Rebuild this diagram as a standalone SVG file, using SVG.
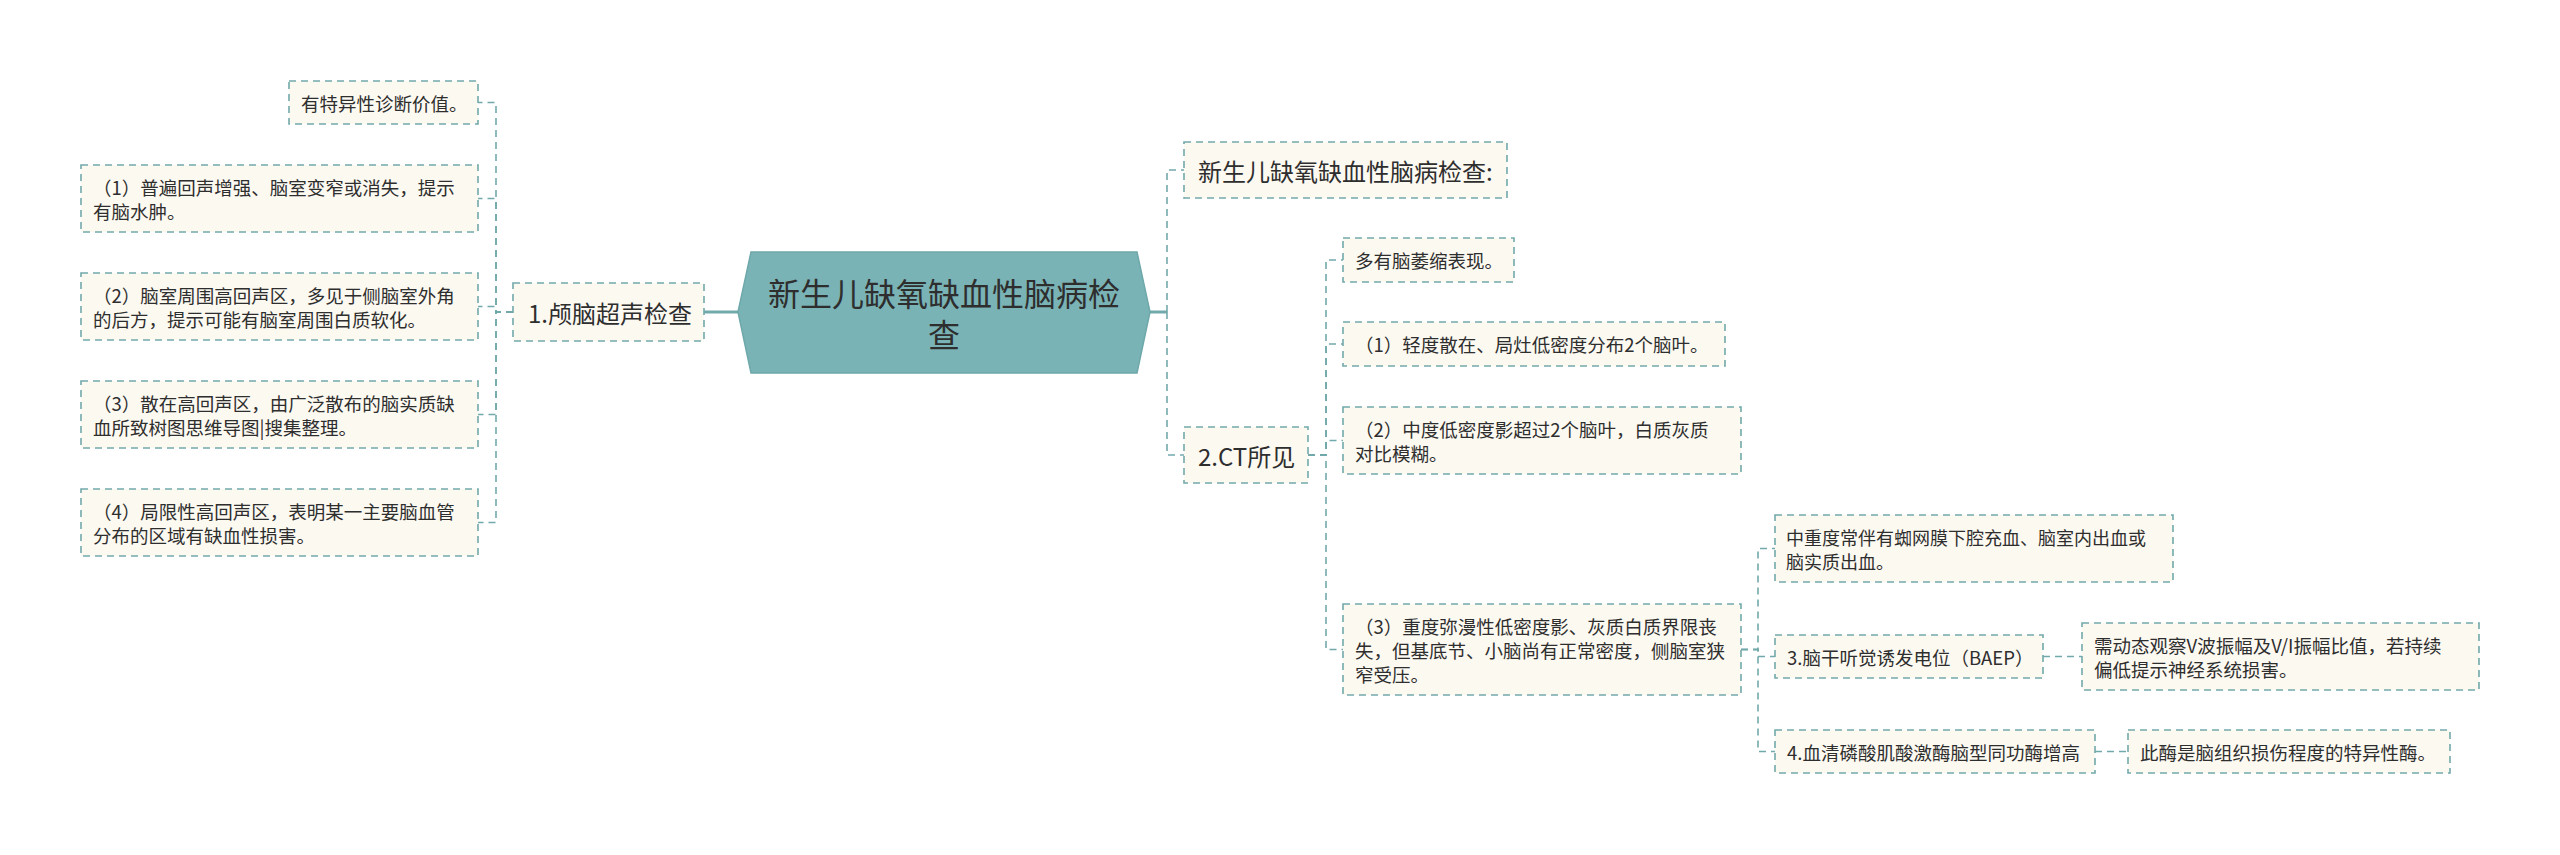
<svg xmlns="http://www.w3.org/2000/svg" width="2560" height="855" viewBox="0 0 2560 855">
<style>
.box{fill:#fcf9f1;stroke:#72a9aa;stroke-width:1.6;stroke-dasharray:7 5}
.conn{fill:none;stroke:#72a9aa;stroke-width:1.6;stroke-dasharray:7 5}
.solid{fill:none;stroke:#72a9aa;stroke-width:3}
.t{font-family:"Noto Sans CJK SC","Microsoft YaHei",sans-serif;fill:#2e2e2e;dominant-baseline:central}
.s{font-size:18.5px}
.sj{font-size:18px}
.m{font-size:24px}
.r{font-size:32px;text-anchor:middle}
</style>
<rect width="2560" height="855" fill="#ffffff"/>
<g id="connectors">
<path class="solid" d="M738,312 H704"/>
<path class="conn" d="M513,312 H496 V102.5 H478"/>
<path class="conn" d="M513,312 H496 V198.5 H478"/>
<path class="conn" d="M513,312 H496 V306.5 H478"/>
<path class="conn" d="M513,312 H496 V414.5 H478"/>
<path class="conn" d="M513,312 H496 V522.5 H478"/>
<path class="solid" d="M1150,312 H1167"/>
<path class="conn" d="M1167,312 V170 H1184"/>
<path class="conn" d="M1167,312 V455 H1184"/>
<path class="conn" d="M1308,455 H1326 V260 H1343"/>
<path class="conn" d="M1308,455 H1326 V344 H1343"/>
<path class="conn" d="M1308,455 H1326 V440.5 H1343"/>
<path class="conn" d="M1308,455 H1326 V649.5 H1343"/>
<path class="conn" d="M1741,649.5 H1758 V548.5 H1775"/>
<path class="conn" d="M1741,649.5 H1758 V656.5 H1775"/>
<path class="conn" d="M1741,649.5 H1758 V751.5 H1775"/>
<path class="conn" d="M2043,656.5 H2082"/>
<path class="conn" d="M2095,751.5 H2128"/>
</g>
<g id="root">
<polygon points="738,312 751,252 1137,252 1150,312 1137,373 751,373" fill="#7ab3b5" stroke="#6ea8aa" stroke-width="1.5"/>
<text class="t r"><tspan x="944" y="292">新生儿缺氧缺血性脑病检</tspan><tspan x="944" y="333">查</tspan></text>
</g>
<g id="n-ultrasound">
<rect class="box" x="513" y="283" width="191" height="58"/>
<text class="t m" x="528" y="312">1.颅脑超声检查</text>
</g>
<g id="n-title">
<rect class="box" x="1184" y="142" width="323" height="56"/>
<text class="t m" x="1198" y="170">新生儿缺氧缺血性脑病检查:</text>
</g>
<g id="n-ct">
<rect class="box" x="1184" y="427" width="124" height="56"/>
<text class="t m" x="1198" y="455">2.CT所见</text>
</g>
<g id="n-a">
<rect class="box" x="289" y="81" width="189" height="43"/>
<text class="t s" x="301" y="102.5">有特异性诊断价值。</text>
</g>
<g id="n-b">
<rect class="box" x="81" y="165" width="397" height="67"/>
<text class="t s"><tspan x="93" y="187">（1）普遍回声增强、脑室变窄或消失，提示</tspan><tspan x="93" y="211">有脑水肿。</tspan></text>
</g>
<g id="n-c">
<rect class="box" x="81" y="273" width="397" height="67"/>
<text class="t s"><tspan x="93" y="295">（2）脑室周围高回声区，多见于侧脑室外角</tspan><tspan x="93" y="319">的后方，提示可能有脑室周围白质软化。</tspan></text>
</g>
<g id="n-d">
<rect class="box" x="81" y="381" width="397" height="67"/>
<text class="t s"><tspan x="93" y="403">（3）散在高回声区，由广泛散布的脑实质缺</tspan><tspan x="93" y="427">血所致树图思维导图|搜集整理。</tspan></text>
</g>
<g id="n-e">
<rect class="box" x="81" y="489" width="397" height="67"/>
<text class="t s"><tspan x="93" y="511">（4）局限性高回声区，表明某一主要脑血管</tspan><tspan x="93" y="535">分布的区域有缺血性损害。</tspan></text>
</g>
<g id="n-f">
<rect class="box" x="1343" y="238" width="171" height="44"/>
<text class="t s" x="1355" y="260">多有脑萎缩表现。</text>
</g>
<g id="n-g">
<rect class="box" x="1343" y="322" width="382" height="44"/>
<text class="t s" x="1355" y="344">（1）轻度散在、局灶低密度分布2个脑叶。</text>
</g>
<g id="n-h">
<rect class="box" x="1343" y="407" width="398" height="67"/>
<text class="t s"><tspan x="1355" y="429">（2）中度低密度影超过2个脑叶，白质灰质</tspan><tspan x="1355" y="453">对比模糊。</tspan></text>
</g>
<g id="n-i">
<rect class="box" x="1343" y="604" width="398" height="91"/>
<text class="t s"><tspan x="1355" y="626">（3）重度弥漫性低密度影、灰质白质界限丧</tspan><tspan x="1355" y="650">失，但基底节、小脑尚有正常密度，侧脑室狭</tspan><tspan x="1355" y="674">窄受压。</tspan></text>
</g>
<g id="n-j">
<rect class="box" x="1775" y="515" width="398" height="67"/>
<text class="t sj"><tspan x="1786" y="537">中重度常伴有蜘网膜下腔充血、脑室内出血或</tspan><tspan x="1786" y="561">脑实质出血。</tspan></text>
</g>
<g id="n-k">
<rect class="box" x="1775" y="635" width="268" height="43"/>
<text class="t s" x="1787" y="656.5">3.脑干听觉诱发电位（BAEP）</text>
</g>
<g id="n-l">
<rect class="box" x="2082" y="623" width="397" height="67"/>
<text class="t s"><tspan x="2094" y="645">需动态观察V波振幅及V/I振幅比值，若持续</tspan><tspan x="2094" y="669">偏低提示神经系统损害。</tspan></text>
</g>
<g id="n-m">
<rect class="box" x="1775" y="730" width="320" height="43"/>
<text class="t s" x="1787" y="751.5">4.血清磷酸肌酸激酶脑型同功酶增高</text>
</g>
<g id="n-n">
<rect class="box" x="2128" y="730" width="322" height="43"/>
<text class="t s" x="2140" y="751.5">此酶是脑组织损伤程度的特异性酶。</text>
</g>
</svg>
